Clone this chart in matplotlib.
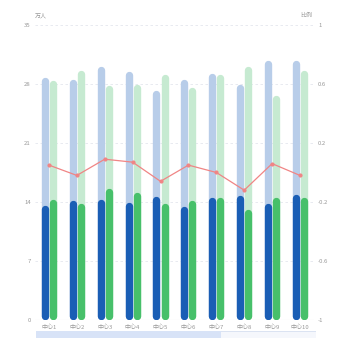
import numpy as np
import matplotlib.pyplot as plt
from matplotlib.patches import Rectangle

plt.rcParams['font.family'] = ['Noto Sans CJK SC', 'DejaVu Sans']

centers = ["中心1", "中心2", "中心3", "中心4", "中心5",
           "中心6", "中心7", "中心8", "中心9", "中心10"]
total_a = [28.8, 28.5, 30.1, 29.5, 27.2, 28.5, 29.3, 27.9, 30.8, 30.8]
total_b = [28.4, 29.6, 27.8, 28.0, 29.2, 27.6, 29.2, 30.1, 26.7, 29.6]
part_a = [13.6, 14.2, 14.3, 14.0, 14.7, 13.5, 14.5, 14.8, 13.8, 14.9]
part_b = [14.3, 13.9, 15.6, 15.1, 13.8, 14.2, 14.5, 13.1, 14.6, 14.6]
ratio = [0.05, -0.02, 0.09, 0.07, -0.06, 0.05, 0.0, -0.12, 0.06, -0.02]

left_ticks = [0, 7, 14, 21, 28, 35]
right_ticks = [-1, -0.6, -0.2, 0.2, 0.6, 1]

grey = "#999999"
fig = plt.figure(figsize=(3.5, 3.5), dpi=100)
ax = fig.add_axes([0.1, 0.0857, 0.797, 0.843])
ax.set_xlim(-0.5, len(centers) - 0.5)
ax.set_ylim(0, 35)

x = np.arange(len(centers))
off = 0.145
lw_pt = 5.3
# half of the round cap, in data units (px -> data)
cap = (lw_pt / 72 * 100 / 2) / (0.843 * 350 / 35)

def rbars(xs, vals, color):
    ax.vlines(xs, cap, np.array(vals) - cap, colors=color, linewidth=lw_pt,
              capstyle="round", zorder=2)

rbars(x - off, total_a, "#b8cde9")
rbars(x + off, total_b, "#c6ead1")
rbars(x - off, part_a, "#1a5eb5")
rbars(x + off, part_b, "#47c06a")

for t in left_ticks[1:]:
    ax.axhline(t, color="#e4e7ee", lw=0.6, ls=(0, (3, 3)), zorder=0)
ax.axhline(0, color="#dcdcdc", lw=0.8, zorder=1)

for s in ax.spines.values():
    s.set_visible(False)
ax.set_yticks(left_ticks)
ax.set_xticks(x)
ax.set_xticklabels(centers)
ax.tick_params(length=0, labelsize=4.3, colors=grey, pad=3)

ax2 = ax.twinx()
ax2.set_ylim(-1, 1)
ax2.plot(x, ratio, color="#f08585", lw=0.9, marker="o", ms=2, zorder=3)
for s in ax2.spines.values():
    s.set_visible(False)
ax2.set_yticks(right_ticks)
ax2.set_yticklabels([str(t) for t in right_ticks])
ax2.tick_params(length=0, labelsize=4.3, colors=grey, pad=3)

fig.text(0.117, 0.955, "万人", fontsize=4.3, color=grey, ha="center", va="center")
fig.text(0.875, 0.955, "比例", fontsize=4.3, color=grey, ha="center", va="center")

# slider under the chart
sl = fig.add_axes([0.103, 0.035, 0.8, 0.018])
sl.set_xlim(0, 1)
sl.set_ylim(0, 1)
sl.axis("off")
sl.add_patch(Rectangle((0, 0), 1, 1, facecolor="#f5f7fc", edgecolor="#d6dff0", lw=0.6))
sl.add_patch(Rectangle((0, 0), 0.66, 1, facecolor="#d8e3f7", edgecolor="none"))

fig.savefig("out.png", dpi=100)
